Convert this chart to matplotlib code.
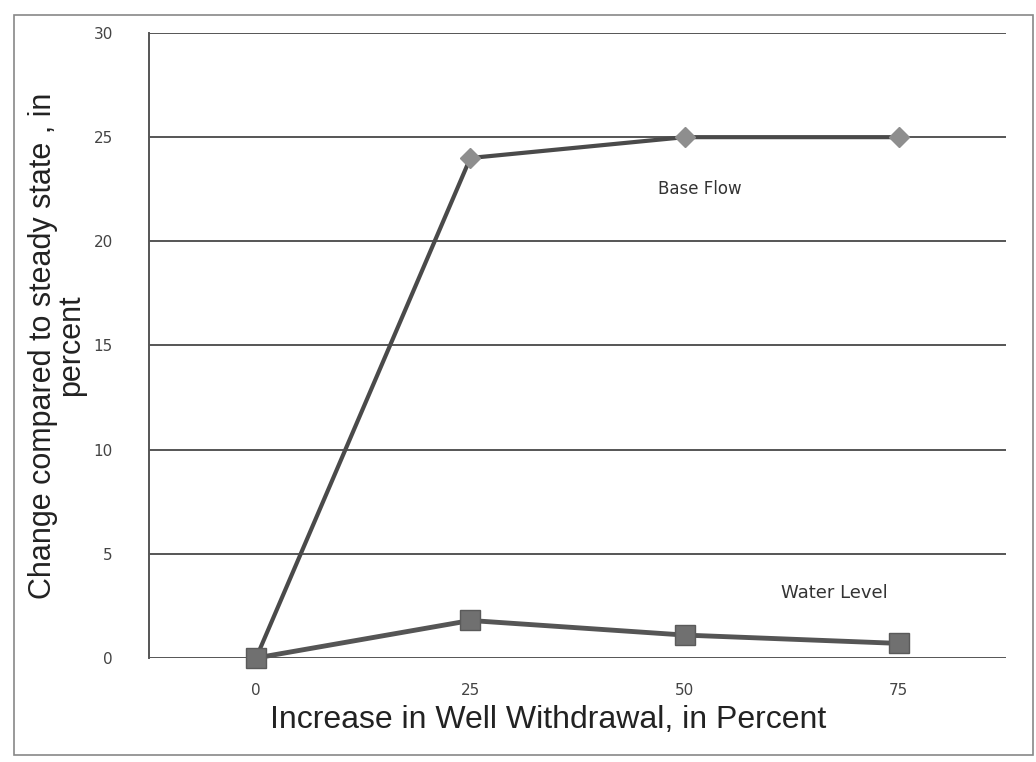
import matplotlib.pyplot as plt
from matplotlib.patches import Rectangle

# Change relative to steady state for each withdrawal increase
withdrawal = ['0', '25', '50', '75']
base_flow = [0, 24, 25, 25]
water_level = [0, 1.8, 1.1, 0.7]

fig = plt.figure(figsize=(10.36, 7.62), dpi=100)
ax = fig.add_axes([0.1438, 0.1365, 0.8272, 0.8202])

x = list(range(len(withdrawal)))
ax.plot(x, base_flow, color='#4a4a4a', linewidth=3, marker='D', markersize=10,
        markerfacecolor='#8e8e8e', markeredgecolor='#8e8e8e', zorder=3, clip_on=False)
ax.plot(x, water_level, color='#555555', linewidth=3.5, marker='s', markersize=15,
        markerfacecolor='#707070', markeredgecolor='#5a5a5a', zorder=4, clip_on=False)

ax.text(2.07, 22.5, 'Base Flow', fontsize=12, color='#333333', ha='center', va='center')
ax.text(2.7, 3.1, 'Water Level', fontsize=13, color='#333333', ha='center', va='center')

ax.set_xlim(-0.5, 3.5)
ax.set_ylim(0, 30)
ax.set_yticks(range(0, 31, 5))
ax.set_xticks(x)
ax.set_xticklabels(withdrawal)
ax.yaxis.grid(True, color='#555555', linewidth=1.4)
ax.set_axisbelow(True)
ax.tick_params(axis='both', length=0, labelsize=11, labelcolor='#444444')
ax.tick_params(axis='y', pad=26)
ax.tick_params(axis='x', pad=18)

for side in ['top', 'right', 'bottom']:
    ax.spines[side].set_visible(False)
ax.spines['left'].set_color('#555555')
ax.spines['left'].set_linewidth(1.4)

ax.set_ylabel('Change compared to steady state , in\npercent', fontsize=22,
              family='Liberation Sans', color='#222222', linespacing=0.95)
ax.yaxis.set_label_coords(-0.073, 0.5)
ax.set_xlabel('Increase in Well Withdrawal, in Percent', fontsize=23,
              family='Liberation Sans', color='#222222', va='center')
ax.xaxis.set_label_coords(0.466, -0.1)

# thin frame around the chart area
fig.patches.append(Rectangle((0.0135, 0.009), 0.984, 0.971, transform=fig.transFigure,
                             fill=False, edgecolor='#888888', linewidth=1.2))

fig.savefig('out.png', dpi=100)
